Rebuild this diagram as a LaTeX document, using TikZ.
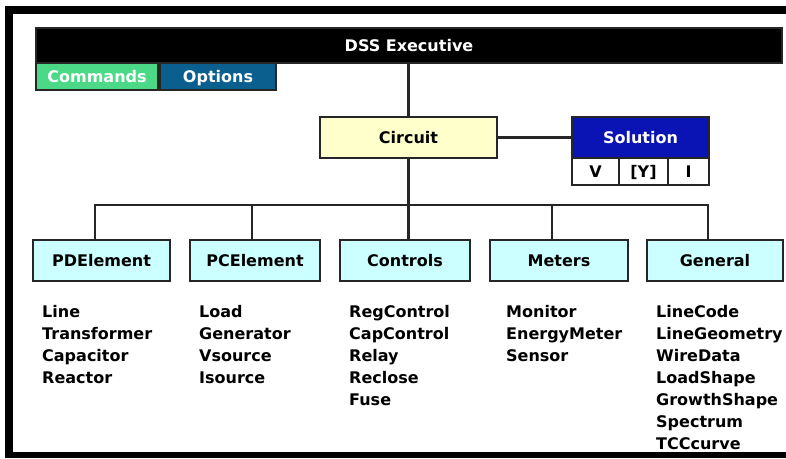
\documentclass[tikz,border=0pt]{standalone}
\usepackage{fontspec}
\setmainfont{DejaVu Sans}
\definecolor{cmdgreen}{HTML}{4CD987}
\definecolor{optblue}{HTML}{0A5F8F}
\definecolor{solblue}{HTML}{0A14B4}
\definecolor{circfill}{HTML}{FFFFCC}
\definecolor{boxfill}{HTML}{CCFFFF}
\tikzset{
  lbl/.style={font=\bfseries\fontsize{16}{19}\selectfont},
  bx/.style={draw=black!85, line width=2pt, inner sep=0pt, lbl, text height=11.7pt, text depth=0pt},
  cls/.style={bx, fill=boxfill, minimum height=41pt},
  cell/.style={bx, fill=white, minimum height=27pt},
  item/.style={anchor=base west, inner sep=0pt, lbl},
  conn/.style={line width=2.5pt, draw=black!85},
}
\begin{document}
\begin{tikzpicture}[x=1pt,y=-1pt]
\useasboundingbox (0,0) rectangle (786,458);
% frame
\fill[black] (5,6) rectangle (786,14);
\fill[black] (5,6) rectangle (13,458);
\fill[black] (5,452) rectangle (786,458);
% executive
\node[bx, fill=black, text=white, minimum width=746pt, minimum height=35pt] (exec) at (409,45.5) {DSS Executive};
\node[bx, fill=cmdgreen, text=white, minimum width=122pt, minimum height=27pt] (cmd) at (97,76.5) {Commands};
\node[bx, fill=optblue, text=white, minimum width=116pt, minimum height=27pt] (opt) at (218,76.5) {Options};
% circuit and solution
\node[bx, fill=circfill, minimum width=177pt, minimum height=41pt] (circ) at (408.5,137.5) {Circuit};
\node[bx, fill=solblue, text=white, minimum width=137pt, minimum height=41pt] (sol) at (640.5,137.5) {Solution};
\node[cell, minimum width=47pt] (cv) at (595.5,171.5) {V};
\node[cell, minimum width=49pt] (cy) at (643.5,171.5) {[Y]};
\node[cell, minimum width=41pt] (ci) at (688.5,171.5) {I};
% classes
\node[cls, minimum width=137pt] (pd) at (101.5,260.5) {PDElement};
\node[cls, minimum width=130pt] (pc) at (255,260.5) {PCElement};
\node[cls, minimum width=130pt] (ctl) at (405,260.5) {Controls};
\node[cls, minimum width=138pt] (met) at (559,260.5) {Meters};
\node[cls, minimum width=136pt] (gen) at (715,260.5) {General};
% bus coordinates
\coordinate (b1) at (95,205);
\coordinate (b2) at (252,205);
\coordinate (b3) at (408.5,205);
\coordinate (b4) at (552,205);
\coordinate (b5) at (708,205);
% connectors
\draw[conn] (circ.north) -- (circ.north |- exec.south);
\draw[conn] (circ.east) -- (sol.west);
\draw[conn] (circ.south) -- (b3);
\draw[conn, line cap=rect] (b1) -- (b5);
\draw[conn] (b1) -- (b1 |- pd.north);
\draw[conn] (b2) -- (b2 |- pc.north);
\draw[conn] (b3) -- (b3 |- ctl.north);
\draw[conn] (b4) -- (b4 |- met.north);
\draw[conn] (b5) -- (b5 |- gen.north);
% lists
\foreach \t [count=\i] in {Line,Transformer,Capacitor,Reactor}
  \node[item] (pdi\i) at (42,{317+22*(\i-1)}) {\t};
\foreach \t [count=\i] in {Load,Generator,Vsource,Isource}
  \node[item] (pci\i) at (199,{317+22*(\i-1)}) {\t};
\foreach \t [count=\i] in {RegControl,CapControl,Relay,Reclose,Fuse}
  \node[item] (cti\i) at (349,{317+22*(\i-1)}) {\t};
\foreach \t [count=\i] in {Monitor,EnergyMeter,Sensor}
  \node[item] (mei\i) at (506,{317+22*(\i-1)}) {\t};
\foreach \t [count=\i] in {LineCode,LineGeometry,WireData,LoadShape,GrowthShape,Spectrum,TCCcurve}
  \node[item] (gei\i) at (656,{317+22*(\i-1)}) {\t};
\end{tikzpicture}
\end{document}
